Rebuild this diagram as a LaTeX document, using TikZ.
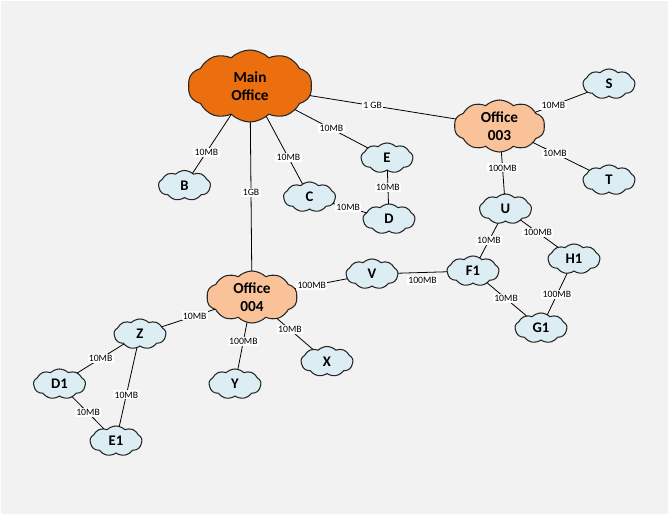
\documentclass[tikz,border=0pt]{standalone}
\usepackage{fontspec}
\setmainfont{Carlito}
\usetikzlibrary{shapes.symbols}
\definecolor{pagegray}{HTML}{F2F2F2}
\definecolor{mainorange}{HTML}{EB6F0F}
\definecolor{officepeach}{HTML}{F9C299}
\definecolor{siteblue}{HTML}{DCEEF4}
\tikzset{
  office/.style={cloud,cloud puffs=10,cloud puff arc=90,aspect=1.75,draw=black!85,
    line width=0.8pt,inner sep=0pt,outer sep=0pt,align=center,
    font=\fontsize{11.5}{13.5}\selectfont\bfseries},
  site/.style={office,cloud puffs=9,fill=siteblue,minimum width=39pt,minimum height=22.5pt,
    font=\fontsize{11}{13}\selectfont\bfseries},
  rate/.style={fill=white,inner sep=1pt,font=\fontsize{7.3}{8}\selectfont}
}
\begin{document}
\begin{tikzpicture}[x=0.75pt,y=-0.75pt,line width=0.6pt]
    \useasboundingbox(0,0)rectangle(669,516);
    \fill[pagegray](1,1)rectangle(668,514);
    % offices
    \node[office,fill=mainorange,minimum width=93pt,minimum height=54pt](main)at(250,86){Main\\Office};
    \node[office,fill=officepeach,minimum width=68pt,minimum height=39pt](off3)at(499.5,126){Office\\003};
    \node[office,fill=officepeach,minimum width=68pt,minimum height=39pt](off4)at(252,297){Office\\004};
    % sites
    \node[site](B)at(184.5,185.5){B};
    \node[site](C)at(309.5,197){C};
    \node[site](E)at(387,158){E};
    \node[site](D)at(389,219){D};
    \node[site](S)at(609,84){S};
    \node[site](T)at(609,180){T};
    \node[site](U)at(505.5,209){U};
    \node[site](V)at(372,274){V};
    \node[site](F1)at(473,271){F1};
    \node[site](H1)at(574,259){H1};
    \node[site](G1)at(541,328){G1};
    \node[site](Z)at(140,334){Z};
    \node[site](D1)at(59.5,384){D1};
    \node[site](E1)at(116,441){E1};
    \node[site](Y)at(235,384){Y};
    \node[site](X)at(327,361.5){X};
    % links
    \draw(main)--node[rate,pos=.43](r1){1 GB}(off3);
    \draw(main)--node[rate,pos=.47](r2){1GB}(off4);
    \draw(main)--node[rate,pos=.64](r3){10MB}(B);
    \draw(main)--node[rate,pos=.61](r4){10MB}(C);
    \draw(main)--node[rate,pos=.5](r5){10MB}(E);
    \draw(E)--node[rate,pos=.5](r6){10MB}(D);
    \draw(C)--node[rate,pos=.45](r7){10MB}(D);
    \draw(off3)--node[rate,pos=.35](r8){10MB}(S);
    \draw(off3)--node[rate,pos=.39](r9){10MB}(T);
    \draw(off3)--node[rate,pos=.38](r10){100MB}(U);
    \draw(U)--node[rate,pos=.5](r11){10MB}(F1);
    \draw(U)--node[rate,pos=.46](r12){100MB}(H1);
    \draw(V)--node[rate,pos=.5,yshift=-6pt](r13){100MB}(F1);
    \draw(F1)--node[rate,pos=.48](r14){10MB}(G1);
    \draw(H1)--node[rate,pos=.52](r15){100MB}(G1);
    \draw(off4)--node[rate,pos=.32](r16){100MB}(V);
    \draw(off4)--node[rate,pos=.38](r17){10MB}(Z);
    \draw(off4)--node[rate,pos=.4](r18){100MB}(Y);
    \draw(off4)--node[rate,pos=.36](r19){10MB}(X);
    \draw(Z)--node[rate,pos=.5](r20){10MB}(D1);
    \draw(Z)--node[rate,pos=.6](r21){10MB}(E1);
    \draw(D1)--node[rate,pos=.5](r22){10MB}(E1);
  \end{tikzpicture}
\end{document}
